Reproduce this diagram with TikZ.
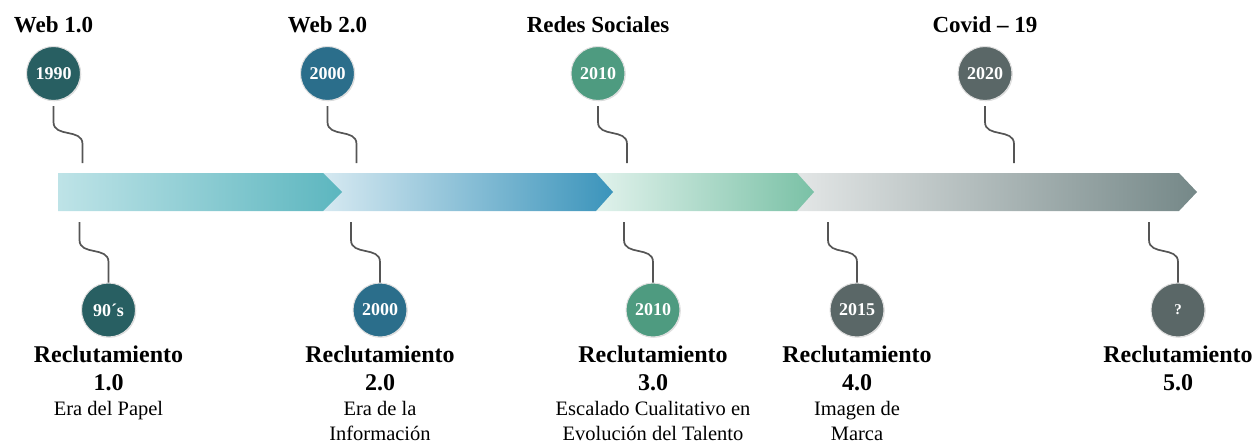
\documentclass[tikz,border=0pt]{standalone}
\usepackage{fontspec}
\setmainfont{Liberation Serif}
\usetikzlibrary{calc,shadows}
\definecolor{sAa}{HTML}{BEE3E7}\definecolor{sAb}{HTML}{5CB6BF}
\definecolor{sBa}{HTML}{D6E9F1}\definecolor{sBb}{HTML}{3B94BB}
\definecolor{sCa}{HTML}{E1F2EC}\definecolor{sCb}{HTML}{7AC1A6}
\definecolor{sDa}{HTML}{E3E6E6}\definecolor{sDb}{HTML}{758888}
\definecolor{cA}{HTML}{285F62}
\definecolor{cB}{HTML}{2B6E8B}
\definecolor{cC}{HTML}{4E9B80}
\definecolor{cD}{HTML}{5A6767}
\definecolor{sq}{HTML}{555555}
\begin{document}
\begin{tikzpicture}[x=1pt,y=-1pt,
  yc/.style={circle,minimum size=54pt,inner sep=0pt,draw=white!88!black,line width=1pt,
    text=white,font=\fontsize{18}{20}\selectfont\bfseries,
    drop shadow={opacity=0.25,shadow xshift=0.8pt,shadow yshift=-0.8pt}},
  ttl/.style={anchor=base,inner sep=0pt,font=\fontsize{23}{27}\selectfont\bfseries},
  rt/.style={anchor=north,align=center,inner sep=0pt,font=\fontsize{24}{28}\selectfont\bfseries},
  ds/.style={anchor=north,align=center,inner sep=0pt,font=\fontsize{20.5}{25}\selectfont},
  squig/.style={draw=sq,line width=1.7pt}]
\useasboundingbox (0,0) rectangle (1257,444);

% band segments
\shade[left color=sDa,right color=sDb] (797,173) -- (1179,173) -- (1197,192) -- (1179,211) -- (797,211) -- cycle;
\shade[left color=sCa,right color=sCb] (596,173) -- (797,173) -- (814,192) -- (797,211) -- (596,211) -- cycle;
\shade[left color=sBa,right color=sBb] (323,173) -- (596,173) -- (613,192) -- (596,211) -- (323,211) -- cycle;
\shade[left color=sAa,right color=sAb] (58,173) -- (323,173) -- (342,192) -- (323,211) -- (58,211) -- cycle;

% top titles
\node[ttl] (h1) at (53.5,33) {Web 1.0};
\node[ttl] (h2) at (327.5,33) {Web 2.0};
\node[ttl] (h3) at (598,33) {Redes Sociales};
\node[ttl] (h4) at (985,33) {Covid -- 19};

% top circles
\node[yc,fill=cA] (t1) at (53.5,73.5) {1990};
\node[yc,fill=cB] (t2) at (327.5,73.5) {2000};
\node[yc,fill=cC] (t3) at (598,73.5) {2010};
\node[yc,fill=cD] (t4) at (985,73.5) {2020};

\coordinate (ta1) at (82.5,163);
\coordinate (ta2) at (356.5,163);
\coordinate (ta3) at (627,163);
\coordinate (ta4) at (1014,163);
\foreach \i in {1,2,3,4}{
  \draw[squig] (t\i.south) ++(0,5) -- ++(0,16) .. controls +(0,16) and +(0,-16) .. ++(29,22) -- (ta\i);
}

% bottom circles
\node[yc,fill=cA] (b1) at (108.5,310) {90´s};
\node[yc,fill=cB] (b2) at (380,310) {2000};
\node[yc,fill=cC] (b3) at (653,310) {2010};
\node[yc,fill=cD] (b4) at (857,310) {2015};
\node[yc,fill=cD,font=\fontsize{15}{17}\selectfont\bfseries] (b5) at (1178,310) {?};

\coordinate (ba1) at (79.5,222);
\coordinate (ba2) at (351,222);
\coordinate (ba3) at (624,222);
\coordinate (ba4) at (828,222);
\coordinate (ba5) at (1149,222);
\foreach \i in {1,...,5}{
  \draw[squig] (ba\i) -- ++(0,18) .. controls +(0,16) and +(0,-16) .. ++(29,22) -- (b\i.north);
}

% bottom texts
\node[rt] (r1) at (108.5,346) {Reclutamiento\\1.0};
\node[rt] (r2) at (380,346) {Reclutamiento\\2.0};
\node[rt] (r3) at (653,346) {Reclutamiento\\3.0};
\node[rt] (r4) at (857,346) {Reclutamiento\\4.0};
\node[rt] (r5) at (1178,346) {Reclutamiento\\5.0};

\node[ds] (d1) at (108.5,401) {Era del Papel};
\node[ds] (d2) at (380,401) {Era de la\\Información};
\node[ds] (d3) at (653,401) {Escalado Cualitativo en\\Evolución del Talento};
\node[ds] (d4) at (857,401) {Imagen de\\Marca};
\end{tikzpicture}
\end{document}
